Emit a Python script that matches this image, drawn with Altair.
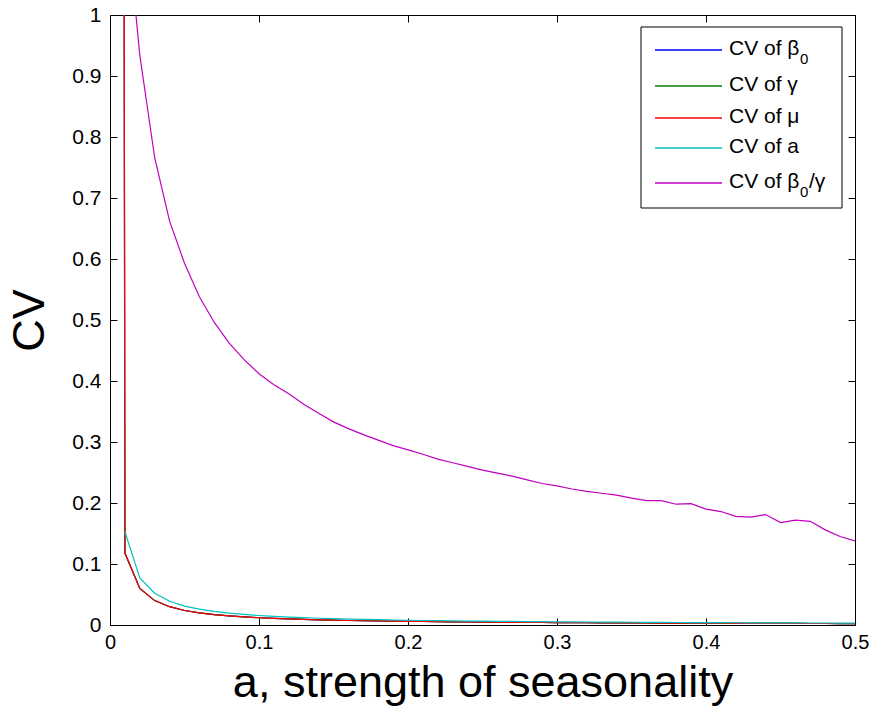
import altair as alt
import pandas as pd

# ---- data ----
a_vals = [round(0.01 * i, 2) for i in range(0, 51)]  # 0.00 .. 0.50

# CV of mu (red); first value at a=0 is off-scale (very large)
cv_mu = [20.0, 0.118, 0.060, 0.040, 0.030, 0.0238, 0.0198, 0.0170, 0.0149, 0.0132, 0.0119,
         0.0108, 0.0099, 0.0092, 0.0085, 0.0079, 0.0074, 0.0070, 0.0066, 0.0063, 0.0060,
         0.0057, 0.0054, 0.0052, 0.0050, 0.0048, 0.0046, 0.0044, 0.0043, 0.0041, 0.0040,
         0.0039, 0.0037, 0.0036, 0.0035, 0.0034, 0.0033, 0.0032, 0.0031, 0.0031, 0.0030,
         0.0029, 0.0028, 0.0028, 0.0027, 0.0026, 0.0026, 0.0025, 0.0025, 0.0024, 0.0024]
cv_beta0 = [20.0, 0.118, 0.060, 0.040, 0.030, 0.0238, 0.0198, 0.0170, 0.0149, 0.0132, 0.0119,
            0.0108, 0.0099, 0.0092, 0.0085, 0.0079, 0.0074, 0.0070, 0.0066, 0.0063, 0.0060,
            0.0057, 0.0054, 0.0052, 0.0050, 0.0048, 0.0046, 0.0044, 0.0043, 0.0041, 0.0040,
            0.0039, 0.0037, 0.0036, 0.0035, 0.0034, 0.0033, 0.0032, 0.0031, 0.0031, 0.0030,
            0.0029, 0.0028, 0.0028, 0.0027, 0.0026, 0.0026, 0.0025, 0.0025, 0.0024, 0.0024]
cv_gamma = [20.0, 0.118, 0.060, 0.040, 0.030, 0.0238, 0.0198, 0.0170, 0.0149, 0.0132, 0.0119,
            0.0108, 0.0099, 0.0092, 0.0085, 0.0079, 0.0074, 0.0070, 0.0066, 0.0063, 0.0060,
            0.0057, 0.0054, 0.0052, 0.0050, 0.0048, 0.0046, 0.0044, 0.0043, 0.0041, 0.0040,
            0.0039, 0.0037, 0.0036, 0.0035, 0.0034, 0.0033, 0.0032, 0.0031, 0.0031, 0.0030,
            0.0029, 0.0028, 0.0028, 0.0027, 0.0026, 0.0026, 0.0025, 0.0025, 0.0024, 0.0024]
# CV of a (cyan), starts at a=0.01
cv_a = [None, 0.153, 0.077, 0.052, 0.039, 0.031, 0.026, 0.0223, 0.0195, 0.0173, 0.0156,
        0.0142, 0.0130, 0.0120, 0.0111, 0.0104, 0.0097, 0.0092, 0.0087, 0.0082, 0.0078,
        0.0074, 0.0071, 0.0068, 0.0065, 0.0062, 0.0060, 0.0058, 0.0056, 0.0054, 0.0052,
        0.0050, 0.0049, 0.0047, 0.0046, 0.0045, 0.0043, 0.0042, 0.0041, 0.0040, 0.0039,
        0.0038, 0.0037, 0.0036, 0.0036, 0.0035, 0.0034, 0.0033, 0.0033, 0.0032, 0.0031]
# CV of beta0/gamma (magenta), starts at a=0.01
cv_ratio = [None, 1.19, 0.934, 0.766, 0.662, 0.593, 0.538, 0.496, 0.462, 0.435, 0.412,
            0.394, 0.379, 0.362, 0.347, 0.333, 0.322, 0.312, 0.303, 0.294, 0.287,
            0.280, 0.272, 0.266, 0.260, 0.254, 0.249, 0.244, 0.238, 0.232, 0.228,
            0.223, 0.219, 0.216, 0.213, 0.208, 0.204, 0.204, 0.198, 0.199, 0.190,
            0.186, 0.178, 0.177, 0.181, 0.168, 0.172, 0.170, 0.156, 0.145, 0.138]

x_ticks = [0, 0.1, 0.2, 0.3, 0.4, 0.5]
y_ticks = [0, 0.1, 0.2, 0.3, 0.4, 0.5, 0.6, 0.7, 0.8, 0.9, 1]

series = [
    ("beta0", cv_beta0, "#0000FF"),
    ("gamma", cv_gamma, "#008000"),
    ("mu", cv_mu, "#FF0000"),
    ("a", cv_a, "#00BFBF"),
    ("ratio", cv_ratio, "#BF00BF"),
]

FONT = "Liberation Sans"
W, H = 745, 610
TICK = 7

x_scale = alt.Scale(domain=[0, 0.5], nice=False, zero=False)
y_scale = alt.Scale(domain=[0, 1], nice=False, zero=False)

x_axis = alt.Axis(values=x_ticks, format="~g", orient="bottom", offset=-TICK, tickSize=TICK,
                  domain=False, grid=False, labelFont=FONT, labelFontSize=20, labelColor="black",
                  labelPadding=7, tickColor="black", title="a, strength of seasonality",
                  titleFont=FONT, titleFontSize=45, titleFontWeight="normal", titleColor="black",
                  titlePadding=8, labelFlush=False)
y_axis = alt.Axis(values=y_ticks, format="~g", orient="left", offset=-TICK, tickSize=TICK,
                  domain=False, grid=False, labelFont=FONT, labelFontSize=21, labelColor="black",
                  labelPadding=9, tickColor="black", title="CV", titleFont=FONT, titleFontSize=45,
                  titleFontWeight="normal", titleColor="black", titlePadding=19, labelFlush=False)

line_layers = []
for name, vals, col in series:
    df = pd.DataFrame({"a": a_vals, "cv": vals}).dropna()
    line_layers.append(
        alt.Chart(df).mark_line(clip=True, color=col, strokeWidth=1.2).encode(
            x=alt.X("a:Q", scale=x_scale, axis=x_axis),
            y=alt.Y("cv:Q", scale=y_scale, axis=y_axis),
        )
    )
lines = alt.layer(*line_layers)

# top/right inward ticks (MATLAB box style)
df_ratio = pd.DataFrame({"a": a_vals, "cv": cv_ratio}).dropna()
box_axes = alt.Chart(df_ratio).mark_point(opacity=0).encode(
    x=alt.X("a:Q", scale=x_scale,
            axis=alt.Axis(values=x_ticks, orient="top", offset=-TICK, tickSize=TICK, labels=False,
                          domain=False, grid=False, tickColor="black", title=None)),
    y=alt.Y("cv:Q", scale=y_scale,
            axis=alt.Axis(values=y_ticks, orient="right", offset=-TICK, tickSize=TICK, labels=False,
                          domain=False, grid=False, tickColor="black", title=None)),
)

# ---- legend (drawn manually to allow subscripts) ----
one = alt.Data(values=[{"k": 1}])
leg = []
leg.append(alt.Chart(one).mark_rect(fill="white", stroke="black", strokeWidth=1).encode(
    x=alt.value(531), x2=alt.value(732), y=alt.value(12), y2=alt.value(193)))

rows_y = [35, 71, 103, 133, 168]
legend_main = ["CV of β", "CV of γ", "CV of μ", "CV of a", "CV of β"]
legend_sub = ["0", None, None, None, "0"]
legend_tail = [None, None, None, None, "/γ"]
text_x = 619
for (name, vals, col), yy, main, sub, tail in zip(series, rows_y, legend_main, legend_sub, legend_tail):
    leg.append(alt.Chart(one).mark_rule(color=col, strokeWidth=1.4).encode(
        x=alt.value(545), x2=alt.value(612), y=alt.value(yy)))
    leg.append(alt.Chart(one).mark_text(align="left", baseline="middle", font=FONT,
                                        fontSize=21, color="black", text=main).encode(
        x=alt.value(text_x), y=alt.value(yy - 1)))
    if sub:
        leg.append(alt.Chart(one).mark_text(align="left", baseline="middle", font=FONT,
                                            fontSize=15, color="black", text=sub).encode(
            x=alt.value(690), y=alt.value(yy + 9)))
    if tail:
        leg.append(alt.Chart(one).mark_text(align="left", baseline="middle", font=FONT,
                                            fontSize=21, color="black", text=tail).encode(
            x=alt.value(699), y=alt.value(yy - 1)))

chart = alt.layer(lines, box_axes, *leg).resolve_axis(
    x="independent", y="independent"
).properties(
    width=W, height=H,
    autosize=alt.AutoSizeParams(type="none"),
    padding={"left": 110, "top": 15, "right": 17, "bottom": 84},
    background="white",
).configure_view(stroke="black", strokeWidth=1)

chart.save("out.html", embed_options={"renderer": "svg", "actions": False})
